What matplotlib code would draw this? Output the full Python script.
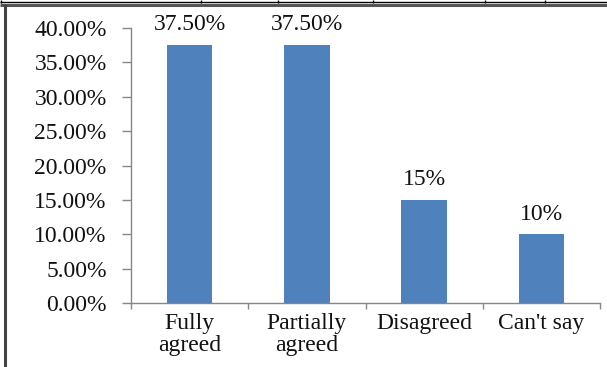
import matplotlib
matplotlib.use("Agg")
import matplotlib.pyplot as plt
from matplotlib.lines import Line2D
from matplotlib.transforms import IdentityTransform
from matplotlib.ticker import FixedLocator, PercentFormatter

categories = ["Fully\nagreed", "Partially\nagreed", "Disagreed", "Can't say"]
values = [0.375, 0.375, 0.15, 0.10]
value_labels = ["37.50%", "37.50%", "15%", "10%"]
yticks = [0.0, 0.05, 0.10, 0.15, 0.20, 0.25, 0.30, 0.35, 0.40]

W, H = 607, 367
fig = plt.figure(figsize=(W / 100, H / 100), dpi=100)
plt.rcParams['font.family'] = ['Liberation Serif', 'DejaVu Serif']
FS = 17

ax = fig.add_axes([131 / W, 1 - 303 / H, (600 - 131) / W, (303 - 28) / H])
x = list(range(len(categories)))
ax.bar(x, values, width=0.39, color="#4F81BD", zorder=2)

ax.set_xlim(-0.5, len(categories) - 0.5)
ax.set_ylim(0, 0.40)
ax.set_yticks(yticks)
ax.yaxis.set_major_formatter(PercentFormatter(1.0, decimals=2))

ax.set_xticks(x)
ax.set_xticklabels(categories, fontsize=FS, linespacing=1.1)
ax.xaxis.set_minor_locator(FixedLocator([i - 0.5 for i in range(len(categories) + 1)]))

axis_color = "#868686"
for side in ["top", "right"]:
    ax.spines[side].set_visible(False)
for side in ["left", "bottom"]:
    ax.spines[side].set_color(axis_color)
    ax.spines[side].set_linewidth(1.0)

ax.tick_params(axis="y", which="major", direction="out", length=6.5, width=1.0,
               color=axis_color, pad=11, labelsize=FS, labelcolor="#111111")
ax.tick_params(axis="x", which="major", length=0, pad=7, labelsize=FS,
               labelcolor="#111111")
ax.tick_params(axis="x", which="minor", direction="out", length=4.5, width=1.0,
               color=axis_color)

for xi, v, lab in zip(x, values, value_labels):
    ax.annotate(lab, (xi, v), xytext=(0, 7), textcoords="offset points",
                ha="center", va="bottom", fontsize=FS, color="#111111")

# surrounding table-cell borders of the source document
idt = IdentityTransform()
def pline(xs, ys, lw, color):
    fig.add_artist(Line2D(xs, [H - y for y in ys], transform=idt, lw=lw,
                          color=color, solid_capstyle="butt"))

pline([0, W], [2, 2], 1.0, "black")
pline([0, W], [5, 5], 2.2, "#555555")
for vx in [1, 201, 278, 373, 485, 545]:
    pline([vx, vx], [0, 2.5], 1.0, "black")
pline([5, 5], [4, H], 2.2, "#444444")

fig.savefig("out.png", dpi=100)
